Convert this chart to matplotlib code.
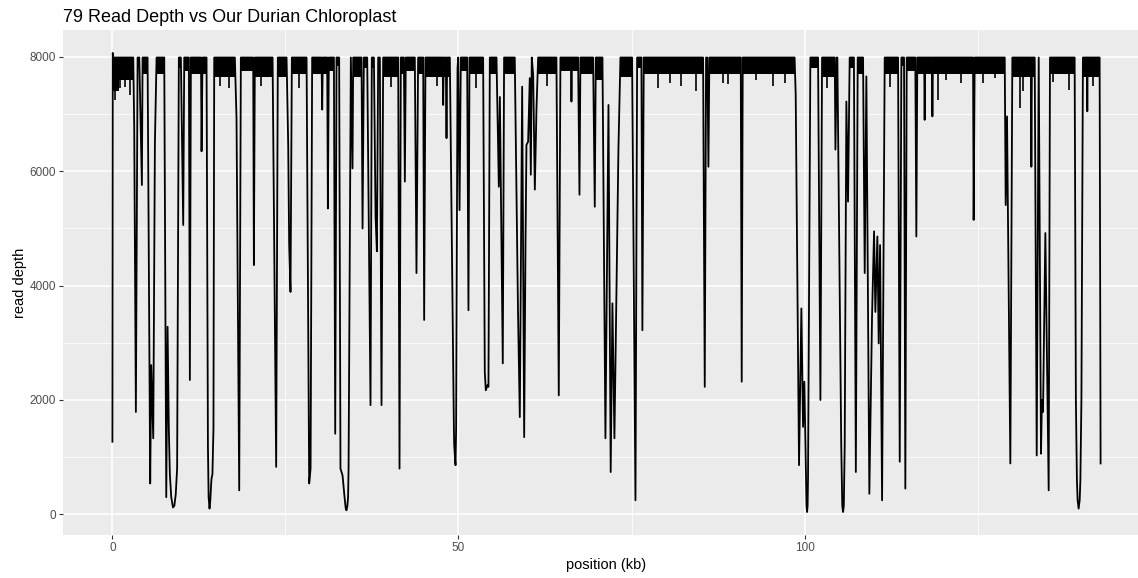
import matplotlib
matplotlib.use("Agg")
import matplotlib.pyplot as plt
from matplotlib.ticker import MultipleLocator

plt.rcParams["font.family"] = ["Liberation Sans", "DejaVu Sans"]

title = "79 Read Depth vs Our Durian Chloroplast"

# trace vertices: position (kb), read depth
trace_kb = [
    0.0, 0.05, 0.1, 3.01, 3.15, 3.39, 3.64, 3.88, 4.26, 4.36,
    5.08, 5.46, 5.61, 5.90, 6.14, 6.38, 7.49, 7.78, 7.97, 8.15,
    8.3, 8.5, 8.75, 8.95, 9.15, 9.35, 9.60, 9.89, 10.23, 10.38,
    11.05, 11.19, 11.34, 12.80, 12.88, 13.02, 13.60, 13.8, 13.9, 14.03,
    14.15, 14.25, 14.32, 14.45, 14.6, 14.71, 17.69, 17.93, 18.32, 18.56,
    20.34, 20.44, 20.58, 23.14, 23.66, 23.9, 25.16, 25.40, 25.54, 25.73,
    25.93, 28.05, 28.43, 28.63, 28.86, 30.21, 30.31, 30.40, 31.03, 31.13,
    31.27, 32.0, 32.19, 32.38, 32.76, 32.95, 33.25, 33.5, 33.7, 33.82,
    33.95, 34.05, 34.12, 34.45, 34.69, 34.79, 35.99, 36.14, 36.33, 36.81,
    37.29, 37.48, 37.78, 38.02, 38.21, 38.4, 38.64, 38.88, 39.12, 41.29,
    41.48, 41.67, 42.11, 42.25, 42.39, 43.69, 43.93, 44.17, 44.9, 45.04,
    45.23, 47.7, 47.79, 47.88, 48.17, 48.27, 48.36, 48.75, 49.33, 49.38,
    49.57, 49.66, 49.86, 49.96, 50.15, 50.34, 51.25, 51.44, 51.59, 53.56,
    53.8, 53.95, 54.19, 54.33, 54.53, 55.49, 55.83, 55.98, 56.4, 56.59,
    58.13, 58.37, 58.6, 58.86, 59.1, 59.2, 59.49, 59.68, 59.82, 60.06,
    60.3, 60.45, 60.59, 60.79, 61.03, 61.27, 61.51, 64.15, 64.49, 64.73,
    66.25, 66.32, 66.4, 67.28, 67.48, 67.62, 69.45, 69.69, 69.84, 70.8,
    71.23, 71.67, 71.99, 72.24, 72.53, 72.92, 73.11, 73.4, 75.08, 75.57,
    75.81, 76.43, 76.57, 76.77, 85.34, 85.58, 85.77, 85.95, 86.11, 86.25,
    90.78, 90.92, 91.07, 98.56, 98.72, 99.2, 99.54, 99.78, 99.97, 100.21,
    100.28, 100.36, 100.44, 100.5, 100.84, 101.95, 102.29, 102.53, 104.36, 104.46,
    104.65, 104.74, 105.3, 105.45, 105.56, 105.67, 105.8, 106.04, 106.28, 106.52,
    107.13, 107.41, 107.68, 108.45, 108.69, 108.93, 109.36, 109.75, 110.04, 110.23,
    110.52, 110.71, 110.91, 111.2, 111.58, 113.51, 113.75, 113.99, 114.37, 114.56,
    114.76, 116.0, 116.15, 116.29, 117.28, 117.35, 117.42, 118.4, 118.47, 118.55,
    124.34, 124.43, 124.58, 128.92, 129.06, 129.25, 129.73, 130.02, 132.7, 132.77,
    132.85, 133.25, 133.54, 133.83, 134.16, 134.3, 134.45, 134.79, 135.27, 135.46,
    139.02, 139.2, 139.35, 139.45, 139.6, 139.75, 139.85, 140.0, 140.22, 140.8,
    140.85, 140.9, 142.63, 142.77,
]
trace_depth = [
    1270, 8070, 7990, 7990, 6800, 1790, 7990, 7990, 5760, 7990,
    7990, 540, 2610, 1330, 6500, 7990, 7990, 300, 3280, 1500,
    700, 300, 120, 150, 350, 800, 7990, 7990, 5060, 7990,
    7990, 2350, 7990, 7990, 6350, 7990, 7990, 1200, 300, 100,
    250, 500, 625, 700, 1500, 7990, 7990, 6930, 420, 7990,
    7990, 4360, 7990, 7990, 830, 7990, 7990, 6460, 4710, 3890,
    7990, 7990, 540, 800, 7990, 7990, 7080, 7990, 7990, 5350,
    7990, 7990, 1410, 7990, 7990, 800, 680, 350, 110, 70,
    150, 300, 800, 7990, 6050, 7990, 7990, 5000, 7990, 7990,
    1910, 7990, 7990, 5210, 4600, 7990, 7990, 1910, 7990, 7990,
    800, 7990, 7990, 5820, 7990, 7990, 4220, 7990, 7990, 3400,
    7990, 7990, 7160, 7990, 7990, 6580, 7990, 7990, 1560, 1210,
    860, 1500, 7800, 7990, 5320, 7990, 7990, 3570, 7990, 7990,
    2490, 2170, 2260, 2230, 7990, 7990, 5730, 7300, 2640, 7990,
    7990, 5700, 3540, 1700, 5880, 7480, 1350, 4710, 6460, 6520,
    7630, 5940, 7990, 7690, 5680, 7100, 7990, 7990, 2080, 7990,
    7990, 7220, 7990, 7990, 5590, 7990, 7990, 5380, 7990, 7990,
    1330, 7160, 740, 3690, 1330, 4830, 6400, 7990, 7990, 245,
    7990, 7990, 3220, 7990, 7990, 2230, 7990, 7990, 6080, 7990,
    7990, 2320, 7990, 7990, 7340, 860, 3600, 1530, 2320, 625,
    150, 40, 150, 625, 7990, 7990, 2000, 7990, 7990, 6380,
    7990, 7990, 1200, 150, 40, 150, 1200, 7220, 5470, 7990,
    7990, 740, 7990, 7990, 4220, 7660, 360, 3460, 4950, 3540,
    4860, 2990, 4710, 245, 7990, 7990, 920, 7990, 7990, 450,
    7990, 7990, 4860, 7990, 7990, 6900, 7990, 7990, 6960, 7990,
    7990, 5150, 7990, 7990, 5410, 6960, 890, 7990, 7990, 6080,
    7990, 7990, 1030, 7990, 1060, 2000, 1790, 4920, 420, 7990,
    7990, 2000, 600, 250, 100, 250, 600, 2000, 7990, 7990,
    7050, 7990, 7990, 890,
]

# dense high-coverage stretches: start, end (kb), lower edge of the band
band_start = [0.1, 1.0, 3.64, 4.36, 6.38, 9.60, 10.38, 11.34, 13.02, 14.71,
              18.56, 20.58, 23.9, 25.93, 28.86, 31.27, 32.38, 34.79, 36.33, 37.48,
              38.4, 39.12, 41.67, 42.39, 44.17, 45.23, 50.34, 51.59, 54.53, 56.59,
              61.51, 64.73, 67.62, 69.84, 73.4, 75.81, 76.77, 86.25, 91.07, 100.84,
              102.53, 106.52, 107.68, 111.58, 113.99, 114.76, 116.29, 124.58, 130.02, 135.46,
              140.22]
band_end = [1.0, 3.01, 3.88, 5.08, 7.49, 9.89, 11.05, 12.88, 13.60, 17.69,
            20.34, 23.14, 25.16, 28.05, 31.03, 32.0, 32.76, 35.99, 36.81, 37.78,
            38.64, 41.29, 42.11, 43.69, 44.9, 48.75, 51.25, 53.56, 55.49, 58.13,
            64.15, 67.28, 69.45, 70.8, 75.08, 76.43, 85.34, 90.78, 98.56, 101.95,
            104.36, 107.13, 108.45, 113.51, 114.37, 116.0, 124.34, 128.92, 133.25, 139.02,
            142.63]
band_floor = [7400, 7600, 7800, 7700, 7700, 7800, 7750, 7700, 7700, 7650,
              7750, 7650, 7650, 7700, 7700, 7750, 7850, 7650, 7800, 7800,
              7850, 7650, 7700, 7750, 7700, 7650, 7750, 7700, 7700, 7700,
              7700, 7750, 7700, 7600, 7650, 7800, 7700, 7700, 7700, 7800,
              7650, 7800, 7700, 7700, 7850, 7750, 7700, 7700, 7650, 7700,
              7650]
band_top = 7995

# short dropouts hanging below the dense band
spike_kb = [0.36, 1.08, 1.8, 2.53, 15.6, 16.9, 21.5, 26.9, 40.2, 46.9,
            52.6, 62.8, 78.85, 80.5, 82.2, 84.3, 88.2, 88.9, 93.0, 95.5,
            97.13, 103.3, 112.4, 119.27, 120.5, 122.65, 125.8, 127.5, 131.1, 131.6,
            135.9, 138.2, 141.7]
spike_depth = [7250, 7455, 7480, 7340, 7500, 7450, 7500, 7450, 7480, 7500,
               7450, 7500, 7450, 7540, 7500, 7400, 7540, 7520, 7600, 7500,
               7540, 7450, 7480, 7250, 7600, 7540, 7540, 7630, 7105, 7400,
               7570, 7425, 7500]

W, H = 1138, 578
fig = plt.figure(figsize=(W / 100, H / 100), dpi=100)
ax = fig.add_axes([63 / W, (H - 535) / H, (1150 - 63) / W, (535 - 30) / H])
ax.set_facecolor("#EBEBEB")

for s, e, f in zip(band_start, band_end, band_floor):
    ax.fill_between([s, e], [f, f], [band_top, band_top], color="black", lw=0)
ax.vlines(spike_kb, spike_depth, band_top, color="black", lw=1.2)
ax.plot(trace_kb, trace_depth, color="black", lw=1.3)

# ggplot style 5% expansion
xlo, xhi = min(trace_kb), max(trace_kb)
ylo, yhi = min(trace_depth), max(trace_depth)
ax.set_xlim(xlo - 0.05 * (xhi - xlo), xhi + 0.05 * (xhi - xlo))
ax.set_ylim(ylo - 0.05 * (yhi - ylo), yhi + 0.05 * (yhi - ylo))

ax.xaxis.set_major_locator(MultipleLocator(50))
ax.xaxis.set_minor_locator(MultipleLocator(25))
ax.yaxis.set_major_locator(MultipleLocator(2000))
ax.yaxis.set_minor_locator(MultipleLocator(1000))
ax.grid(which="major", color="white", lw=1.1)
ax.grid(which="minor", color="white", lw=0.55)
ax.set_axisbelow(True)
for sp in ax.spines.values():
    sp.set_visible(False)
ax.tick_params(which="major", length=3, width=0.8, color="#333333",
               labelcolor="#4D4D4D", labelsize=8.5, pad=2)
ax.tick_params(which="minor", length=0)

ax.set_xlabel("position (kb)", fontsize=10.5, labelpad=3)
ax.set_ylabel("read depth", fontsize=10.5, labelpad=2)
fig.text(63 / W, 1 - 22 / H, title, fontsize=13, ha="left", va="baseline")

fig.savefig("out.png", dpi=100)
